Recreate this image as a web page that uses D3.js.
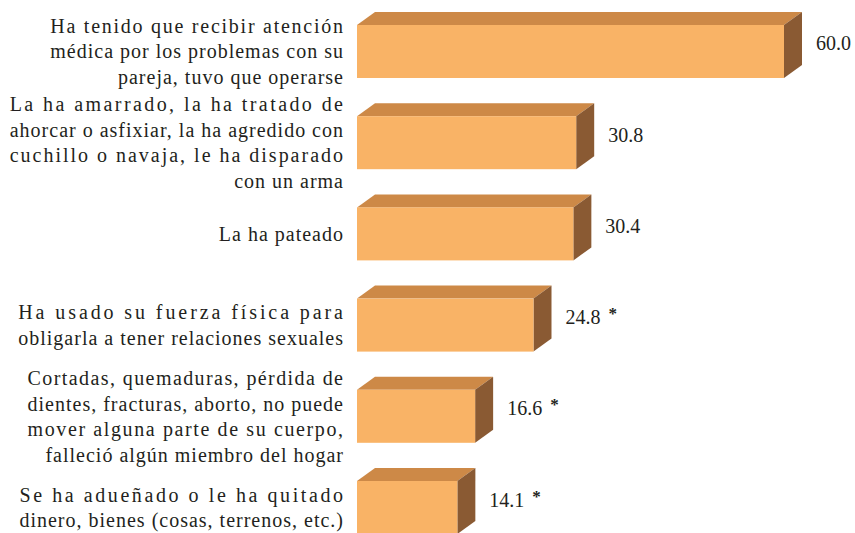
<!DOCTYPE html>
<html>
<head>
<meta charset="utf-8">
<script src="https://cdn.jsdelivr.net/npm/d3@7"></script>
<style>
  body { margin: 0; background: #fff; }
</style>
</head>
<body>
<svg id="chart" width="855" height="533"></svg>
<script>
// Categories (each label split into its printed lines)
var categories = [
  ["Ha tenido que recibir atención", "médica por los problemas con su", "pareja, tuvo que operarse"],
  ["La ha amarrado, la ha tratado de", "ahorcar o asfixiar, la ha agredido con", "cuchillo o navaja, le ha disparado", "con un arma"],
  ["La ha pateado"],
  ["Ha usado su fuerza física para", "obligarla a tener relaciones sexuales"],
  ["Cortadas, quemaduras, pérdida de", "dientes, fracturas, aborto, no puede", "mover alguna parte de su cuerpo,", "falleció algún miembro del hogar"],
  ["Se ha adueñado o le ha quitado", "dinero, bienes (cosas, terrenos, etc.)"]
];
var values = [60.0, 30.8, 30.4, 24.8, 16.6, 14.1];
var flagged = [false, false, false, true, true, true];

var svg = d3.select("#chart"),
    font = "Liberation Serif",
    depthX = 18, depthY = 13,
    labelRight = 344,
    lineH = 25.5;

var keys = categories.map(function(d, i) { return i; });

var x = d3.scaleLinear()
    .domain([0, 60])
    .range([357, 784]);

var y = d3.scaleBand()
    .domain(keys)
    .range([25, 534])
    .paddingInner(0.419)
    .paddingOuter(0);

var bh = y.bandwidth();

var bar = svg.append("g")
  .selectAll("g")
  .data(keys)
  .enter().append("g");

// top face
bar.append("path")
    .attr("fill", "#cd8947")
    .attr("d", function(i) {
      var x0 = x(0), x1 = x(values[i]), t = y(i);
      return "M" + x0 + "," + t + "L" + (x0 + depthX) + "," + (t - depthY) +
             "L" + (x1 + depthX) + "," + (t - depthY) + "L" + x1 + "," + t + "Z";
    });

// side face
bar.append("path")
    .attr("fill", "#8a5a33")
    .attr("d", function(i) {
      var x1 = x(values[i]), t = y(i);
      return "M" + x1 + "," + t + "L" + (x1 + depthX) + "," + (t - depthY) +
             "L" + (x1 + depthX) + "," + (t + bh - depthY) + "L" + x1 + "," + (t + bh) + "Z";
    });

// front face
bar.append("rect")
    .attr("fill", "#f9b366")
    .attr("x", x(0))
    .attr("y", function(i) { return y(i); })
    .attr("width", function(i) { return x(values[i]) - x(0); })
    .attr("height", bh);

// value labels
var val = bar.append("text")
    .style("font-family", font)
    .attr("fill", "#231f20")
    .attr("x", function(i) { return x(values[i]) + depthX + 14; })
    .attr("y", function(i) { return y(i) + bh / 2 - 8; })
    .attr("dy", "0.35em")
    .attr("font-size", 20);

val.append("tspan")
    .text(function(i) { return values[i].toFixed(1); });

val.filter(function(i) { return flagged[i]; })
  .append("tspan")
    .attr("dx", 8)
    .attr("dy", -5)
    .attr("font-size", 17)
    .attr("font-weight", "bold")
    .text("*");

// category labels, one text per line, centred on the front face
var lines = bar.append("g")
  .selectAll("text")
  .data(function(i) {
    var ls = categories[i], n = ls.length, c = y(i) + bh / 2;
    return ls.map(function(l, j) {
      return { text: l, last: j === n - 1, y: c + (j - (n - 1) / 2) * lineH };
    });
  })
  .enter().append("text")
    .style("font-family", font)
    .style("letter-spacing", "1px")
    .attr("fill", "#231f20")
    .attr("text-anchor", "end")
    .attr("font-size", 20)
    .attr("x", labelRight)
    .attr("y", function(d) { return d.y; })
    .attr("dy", "0.35em")
    .text(function(d) { return d.text; });

// justify the lines of each block (all but the last) to its widest line
bar.each(function() {
  var t = d3.select(this).selectAll("text").filter(function(d) { return d && d.text; });
  var w = 0;
  t.each(function() { w = Math.max(w, this.getComputedTextLength()); });
  t.filter(function(d) { return !d.last; })
    .attr("textLength", w)
    .attr("lengthAdjust", "spacing");
});
</script>
</body>
</html>
